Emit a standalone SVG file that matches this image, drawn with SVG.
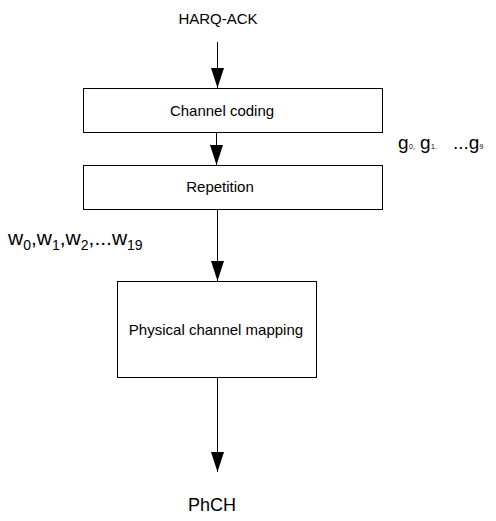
<svg xmlns="http://www.w3.org/2000/svg" width="496" height="521" viewBox="0 0 496 521">
  <style>
    .box { fill: #ffffff; stroke: #000000; stroke-width: 1; }
    .lbl { font-family: "Liberation Sans", Arial, sans-serif; font-size: 15px; fill: #000000; }
    .side { font-family: "Liberation Sans", Arial, sans-serif; font-size: 21px; fill: #000000; }
    .sub { font-size: 14px; }
    .tiny { font-size: 7px; }
    .edge { stroke: #000000; stroke-width: 1; fill: none; marker-end: url(#arrow); }
  </style>
  <defs>
    <marker id="arrow" markerUnits="userSpaceOnUse" markerWidth="20" markerHeight="14" refX="20" refY="7" orient="auto" viewBox="0 0 20 14">
      <path d="M0,0.5 L20,7 L0,13.5 Z" fill="#000000"/>
    </marker>
  </defs>
  <rect width="496" height="521" fill="#ffffff"/>

  <g id="connectors">
    <line class="edge" x1="217.5" y1="42" x2="217.5" y2="88"/>
    <line class="edge" x1="216.5" y1="132" x2="216.5" y2="165"/>
    <line class="edge" x1="217.5" y1="209" x2="217.5" y2="281"/>
    <line class="edge" x1="217.5" y1="377" x2="217.5" y2="472"/>
  </g>

  <g id="harq-ack">
    <text class="lbl" x="218" y="24" text-anchor="middle">HARQ-ACK</text>
  </g>

  <g id="channel-coding">
    <rect class="box" x="83.5" y="88.5" width="299" height="44"/>
    <text class="lbl" x="222" y="116" text-anchor="middle">Channel coding</text>
  </g>

  <g id="g-label">
    <text class="side" x="398" y="149" style="font-size:19px">g<tspan class="tiny" x="409">0,</tspan><tspan x="420">g</tspan><tspan class="tiny" x="431">1.</tspan><tspan x="453">...g</tspan><tspan class="tiny">9</tspan></text>
  </g>

  <g id="repetition">
    <rect class="box" x="83.5" y="165.5" width="299" height="44"/>
    <text class="lbl" x="220" y="192" text-anchor="middle">Repetition</text>
  </g>

  <g id="w-label">
    <text class="side" x="8" y="245">w<tspan class="sub" dy="5">0</tspan><tspan dy="-5">,w</tspan><tspan class="sub" dy="5">1</tspan><tspan dy="-5">,w</tspan><tspan class="sub" dy="5">2</tspan><tspan dy="-5">,...w</tspan><tspan class="sub" dy="5">19</tspan></text>
  </g>

  <g id="physical-channel-mapping">
    <rect class="box" x="117.5" y="281.5" width="199" height="96"/>
    <text class="lbl" x="216" y="335" text-anchor="middle">Physical channel mapping</text>
  </g>

  <g id="phch">
    <text class="lbl" x="212" y="511" text-anchor="middle" style="font-size:18px">PhCH</text>
  </g>
</svg>
